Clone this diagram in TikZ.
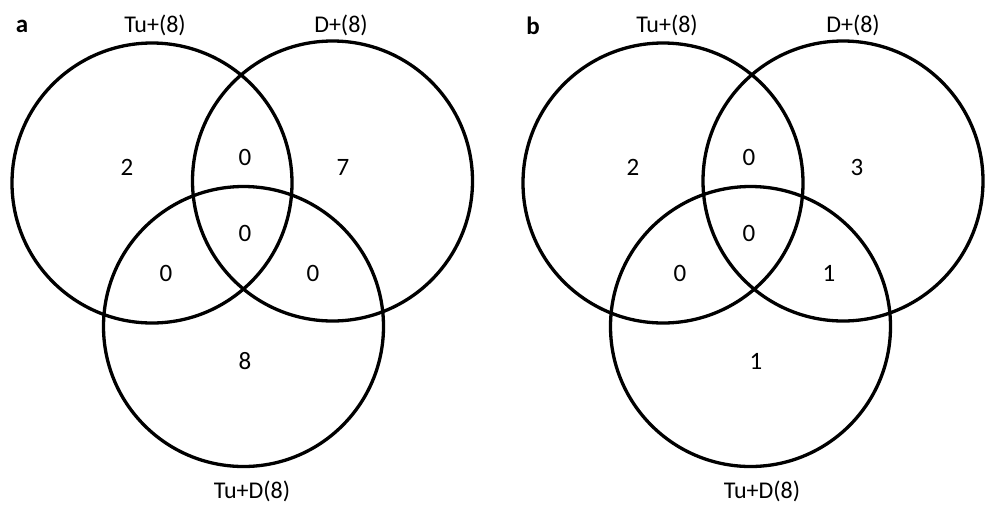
\documentclass[tikz,border=0pt]{standalone}
\usepackage{fontspec}
\setmainfont{Carlito}
\begin{document}
\begin{tikzpicture}[x=1pt,y=-1pt,
  venn/.style={circle,draw=black,line width=3.3pt,inner sep=0pt,minimum size=280pt},
  lbl/.style={font=\fontsize{24}{26}\selectfont,inner sep=0pt},
  num/.style={font=\fontsize{25}{27}\selectfont,inner sep=0pt},
  panel/.style={font=\fontsize{25}{27}\selectfont\bfseries,inner sep=0pt}]
\useasboundingbox (0,0) rectangle (987,507);
% panel a
\node[venn] (aT) at (152,183) {};
\node[venn] (aD) at (332.5,181) {};
\node[venn] (aB) at (243.5,326.5) {};
\node[panel] (pa) at (22,26) {a};
\node[lbl] (aTl) at (155,25) {Tu+(8)};
\node[lbl] (aDl) at (341,25) {D+(8)};
\node[lbl] (aBl) at (252,491) {Tu+D(8)};
\node[num] (a1) at (127,167) {2};
\node[num] (a2) at (245,157) {0};
\node[num] (a3) at (343,167) {7};
\node[num] (a4) at (245,233) {0};
\node[num] (a5) at (166,273) {0};
\node[num] (a6) at (313,273) {0};
\node[num] (a7) at (245,361) {8};
% panel b
\node[venn] (bT) at (663,183) {};
\node[venn] (bD) at (843,181) {};
\node[venn] (bB) at (750.5,326.5) {};
\node[panel] (pb) at (533,26) {b};
\node[lbl] (bTl) at (667,25) {Tu+(8)};
\node[lbl] (bDl) at (853,25) {D+(8)};
\node[lbl] (bBl) at (762,491) {Tu+D(8)};
\node[num] (b1) at (633,167) {2};
\node[num] (b2) at (749,157) {0};
\node[num] (b3) at (857,167) {3};
\node[num] (b4) at (749,233) {0};
\node[num] (b5) at (680,273) {0};
\node[num] (b6) at (829,273) {1};
\node[num] (b7) at (756,361) {1};
\end{tikzpicture}
\end{document}
